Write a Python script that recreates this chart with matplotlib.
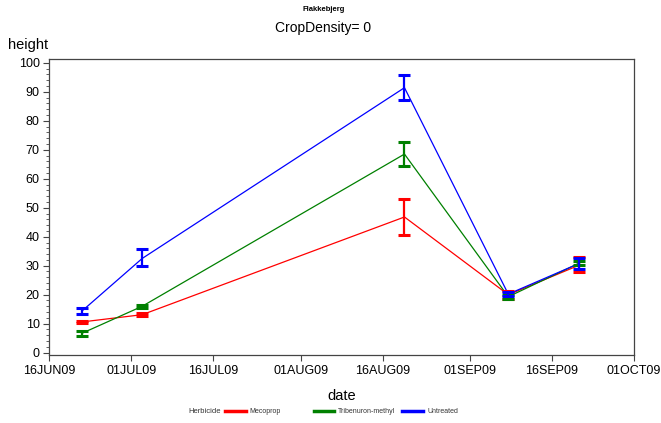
import numpy as np
import pandas as pd
import matplotlib
matplotlib.use("Agg")
import matplotlib.pyplot as plt
import matplotlib.dates as mdates
from matplotlib.lines import Line2D
from matplotlib.ticker import MultipleLocator, FuncFormatter

plt.rcParams["font.family"] = ["Liberation Sans", "DejaVu Sans"]

# Measurement dates
dates = pd.to_datetime(["2009-06-22", "2009-07-03", "2009-08-20", "2009-09-08", "2009-09-21"])

# Mean height with lower / upper limits per herbicide
mecoprop_mean = [10.6, 13.1, 46.8, 20.0, 30.2]
mecoprop_low = [10.2, 12.5, 40.7, 18.5, 27.8]
mecoprop_high = [11.0, 13.8, 53.0, 21.3, 33.1]

tribenuron_mean = [6.7, 16.0, 68.5, 19.3, 30.9]
tribenuron_low = [5.9, 15.5, 64.5, 18.4, 30.1]
tribenuron_high = [7.5, 16.5, 72.7, 20.0, 31.7]

untreated_mean = [14.4, 32.5, 91.4, 20.2, 30.8]
untreated_low = [13.4, 29.8, 87.1, 19.7, 29.0]
untreated_high = [15.5, 35.7, 95.9, 20.8, 32.7]

series = [
    ("Mecoprop", "#ff0000", mecoprop_mean, mecoprop_low, mecoprop_high),
    ("Tribenuron-methyl", "#008000", tribenuron_mean, tribenuron_low, tribenuron_high),
    ("Untreated", "#0000ff", untreated_mean, untreated_low, untreated_high),
]

fig = plt.figure(figsize=(6.61, 4.23), dpi=100)
fig.patch.set_facecolor("white")
ax = fig.add_axes([0.0746, 0.1608, 0.8845, 0.6997])

for name, color, mean, low, high in series:
    mean = np.array(mean)
    yerr = [mean - np.array(low), np.array(high) - mean]
    ax.errorbar(dates, mean, yerr=yerr, fmt="none", ecolor=color,
                elinewidth=1.6, capsize=4.2, capthick=2.2, zorder=3)
    ax.plot(dates, mean, color=color, linewidth=0.9, zorder=2)

ax.set_xlim(pd.Timestamp("2009-06-16"), pd.Timestamp("2009-10-01"))
ax.set_ylim(-0.8, 101.3)

ticks = pd.to_datetime(["2009-06-16", "2009-07-01", "2009-07-16", "2009-08-01",
                        "2009-08-16", "2009-09-01", "2009-09-16", "2009-10-01"])
ax.set_xticks(mdates.date2num(ticks))
ax.xaxis.set_major_formatter(FuncFormatter(
    lambda v, p: mdates.num2date(v).strftime("%d%b%y").upper()))

ax.yaxis.set_major_locator(MultipleLocator(10))
ax.yaxis.set_minor_locator(MultipleLocator(2))

for s in ax.spines.values():
    s.set_color("#444444")
    s.set_linewidth(0.9)

ax.tick_params(axis="both", which="major", direction="out", length=4,
               width=0.8, colors="#444444", labelcolor="black", labelsize=9, pad=3)
ax.tick_params(axis="y", which="minor", direction="out", length=2, width=0.6, colors="#444444")

ax.set_xlabel("date", fontsize=10.5, labelpad=9)
fig.text(0.012, 0.893, "height", fontsize=10.5, ha="left", va="center")

fig.text(0.489, 0.978, "Flakkebjerg", fontsize=5.5, fontweight="bold", ha="center", va="center")
fig.text(0.489, 0.934, "CropDensity= 0", fontsize=10, ha="center", va="center")

# Legend row under the axes: swatch start/end and label start in figure pixels
legend_y = 1 - 411 / 423
legend_pos = [(225, 246, 249), (314, 334, 338), (402, 423, 427)]
fig.text(188 / 661, legend_y, "Herbicide", fontsize=5.5, ha="left", va="center", color="#333333")
for (name, color, *_), (x0, x1, xt) in zip(series, legend_pos):
    fig.add_artist(Line2D([x0 / 661, x1 / 661], [legend_y, legend_y],
                          transform=fig.transFigure, color=color, linewidth=2.5))
    fig.text(xt / 661, legend_y, name, fontsize=5, ha="left", va="center", color="#333333")

fig.savefig("out.png", dpi=100)
